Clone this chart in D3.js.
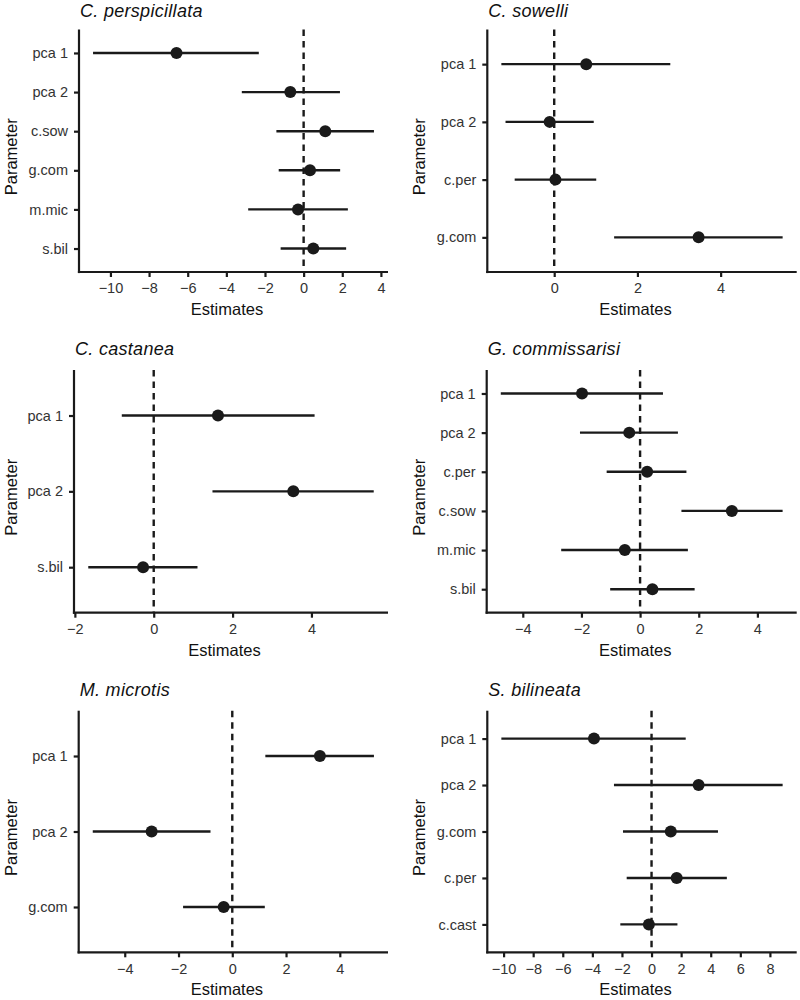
<!DOCTYPE html>
<html>
<head>
<meta charset="utf-8">
<script src="https://cdn.jsdelivr.net/npm/d3@7"></script>
<style>
  html, body { margin: 0; padding: 0; background: #fff; }
  svg { display: block; font-family: "Liberation Sans", Arial, sans-serif; }
</style>
</head>
<body>
<svg id="chart" width="800" height="1000"></svg>
<script>
// ---- data ----
const titles = ["C. perspicillata", "C. sowelli", "C. castanea", "G. commissarisi", "M. microtis", "S. bilineata"];

const parameters = [
  ["pca 1", "pca 2", "c.sow", "g.com", "m.mic", "s.bil"],
  ["pca 1", "pca 2", "c.per", "g.com"],
  ["pca 1", "pca 2", "s.bil"],
  ["pca 1", "pca 2", "c.per", "c.sow", "m.mic", "s.bil"],
  ["pca 1", "pca 2", "g.com"],
  ["pca 1", "pca 2", "g.com", "c.per", "c.cast"]
];

const estimates = [
  [-6.58, -0.69, 1.12, 0.33, -0.29, 0.50],
  [0.77, -0.11, 0.03, 3.47],
  [1.63, 3.54, -0.27],
  [-1.98, -0.37, 0.24, 3.13, -0.52, 0.42],
  [3.26, -3.00, -0.32],
  [-3.89, 3.18, 1.30, 1.70, -0.18]
];

const lower = [
  [-10.90, -3.20, -1.41, -1.29, -2.87, -1.19],
  [-1.27, -1.17, -0.95, 1.44],
  [-0.81, 1.49, -1.66],
  [-4.75, -2.05, -1.14, 1.41, -2.69, -1.02],
  [1.23, -5.19, -1.83],
  [-10.15, -2.54, -1.93, -1.68, -2.11]
];

const upper = [
  [-2.32, 1.88, 3.64, 1.89, 2.29, 2.20],
  [2.79, 0.95, 1.01, 5.49],
  [4.08, 5.58, 1.11],
  [0.78, 1.29, 1.58, 4.86, 1.63, 1.86],
  [5.27, -0.81, 1.21],
  [2.31, 8.86, 4.49, 5.09, 1.75]
];

const xTicks = [
  [-10, -8, -6, -4, -2, 0, 2, 4],
  [0, 2, 4],
  [-2, 0, 2, 4],
  [-4, -2, 0, 2, 4],
  [-4, -2, 0, 2, 4],
  [-10, -8, -6, -4, -2, 0, 2, 4, 6, 8]
];

const xLabel = "Estimates";
const yLabel = "Parameter";

// ---- layout ----
const plotLeft = [79, 487.3, 74, 486.7, 78.7, 487.3];
const colRight = [388, 796.7];
const rowTop = [29.5, 370, 710.7];
const rowBottom = [272, 612.7, 952.3];
const yTitleX = [17, 425];

const svg = d3.select("#chart");
const ink = "#1a1a1a";
const tickInk = "#333333";

titles.forEach((title, i) => {
  const col = i % 2, row = Math.floor(i / 2);
  const x0 = plotLeft[i], x1 = colRight[col];
  const y0 = rowTop[row], y1 = rowBottom[row];

  const lo = d3.min(lower[i]), hi = d3.max(upper[i]);
  const pad = (hi - lo) * 0.05;
  const x = d3.scaleLinear().domain([lo - pad, hi + pad]).range([x0, x1]);
  const y = d3.scalePoint().domain(parameters[i]).range([y0, y1]).padding(0.6);

  const g = svg.append("g");

  // zero reference line
  g.append("line")
    .attr("x1", x(0)).attr("x2", x(0))
    .attr("y1", y0).attr("y2", y1)
    .attr("stroke", ink).attr("stroke-width", 2.4)
    .attr("stroke-dasharray", "6.5 5");

  const rows = parameters[i].map((p, j) => ({p, est: estimates[i][j], lo: lower[i][j], hi: upper[i][j]}));

  g.selectAll(".err").data(rows).join("line")
    .attr("x1", d => x(d.lo)).attr("x2", d => x(d.hi))
    .attr("y1", d => y(d.p)).attr("y2", d => y(d.p))
    .attr("stroke", ink).attr("stroke-width", 2.4);

  g.selectAll(".pt").data(rows).join("circle")
    .attr("cx", d => x(d.est)).attr("cy", d => y(d.p))
    .attr("r", 6).attr("fill", ink);

  // axes
  const xAxis = g.append("g")
    .attr("transform", `translate(0,${y1})`)
    .call(d3.axisBottom(x).tickValues(xTicks[i]).tickFormat(d3.format("d"))
      .tickSize(5).tickSizeOuter(0).tickPadding(6));
  const yAxis = g.append("g")
    .attr("transform", `translate(${x0},0)`)
    .call(d3.axisLeft(y).tickSize(5).tickSizeOuter(0).tickPadding(6));

  [xAxis, yAxis].forEach(a => {
    a.select(".domain").remove();
    a.selectAll(".tick line").attr("stroke", ink).attr("stroke-width", 2.2);
    a.selectAll(".tick text").attr("fill", tickInk).style("font-size", "14.5px");
  });

  // axis lines
  g.append("line").attr("x1", x0).attr("x2", x0).attr("y1", y0).attr("y2", y1 + 1.1)
    .attr("stroke", ink).attr("stroke-width", 2.2);
  g.append("line").attr("x1", x0 - 1.1).attr("x2", x1).attr("y1", y1).attr("y2", y1)
    .attr("stroke", ink).attr("stroke-width", 2.2);

  // axis titles
  g.append("text")
    .attr("x", (x0 + x1) / 2 - 6.5).attr("y", y1 + 43)
    .attr("text-anchor", "middle").attr("fill", "#111")
    .style("font-size", "16.5px").text(xLabel);
  g.append("text")
    .attr("transform", `translate(${yTitleX[col]},${(y0 + y1) / 2 + 6}) rotate(-90)`)
    .attr("text-anchor", "middle").attr("fill", "#111")
    .style("font-size", "16.5px").text(yLabel);

  // panel title
  g.append("text")
    .attr("x", x0 + 1).attr("y", Math.max(y0 - 15, 17))
    .attr("fill", "#111").style("font-size", "18px").style("font-style", "italic")
    .style("letter-spacing", "0.3px")
    .text(title);
});
</script>
</body>
</html>
